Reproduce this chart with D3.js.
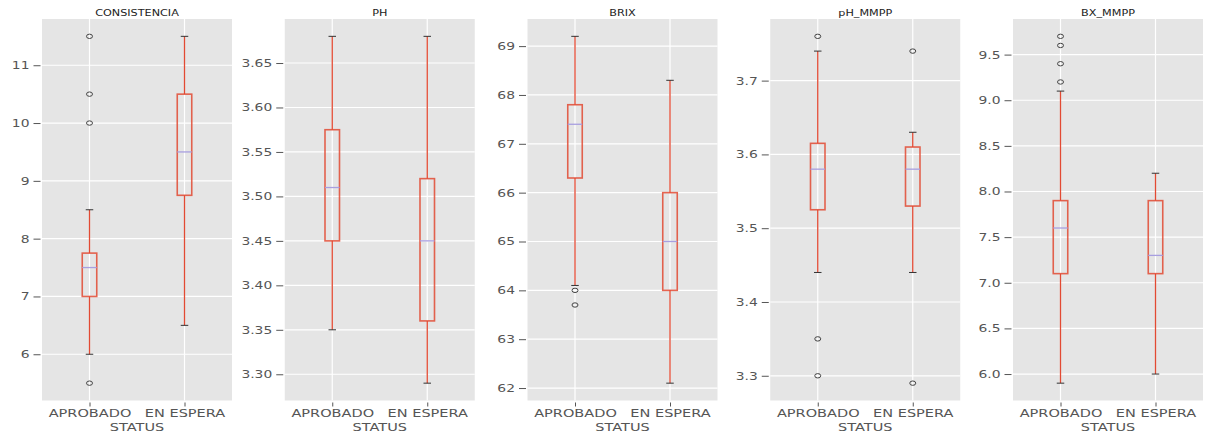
<!DOCTYPE html>
<html>
<head>
<meta charset="utf-8">
<script src="https://cdn.jsdelivr.net/npm/d3@7"></script>
<style>
  html, body { margin: 0; padding: 0; background: #ffffff; }
  svg { display: block; }
  text { font-family: "DejaVu Sans", sans-serif; }
</style>
</head>
<body>
<svg id="chart" width="1206" height="437"></svg>
<script>
// Box-plot summaries per variable, grouped by STATUS
const categories = ["APROBADO", "EN ESPERA"];
const panelTitles = ["CONSISTENCIA", "PH", "BRIX", "pH_MMPP", "BX_MMPP"];

const whiskerLow  = [[6.0, 6.5],    [3.35, 3.29],  [64.1, 62.1], [3.44, 3.44],   [5.9, 6.0]];
const quartile1   = [[7.0, 8.75],   [3.45, 3.36],  [66.3, 64.0], [3.525, 3.53],  [7.1, 7.1]];
const medians     = [[7.5, 9.5],    [3.51, 3.45],  [67.4, 65.0], [3.58, 3.58],   [7.6, 7.3]];
const quartile3   = [[7.75, 10.5],  [3.575, 3.52], [67.8, 66.0], [3.615, 3.61],  [7.9, 7.9]];
const whiskerHigh = [[8.5, 11.5],   [3.68, 3.68],  [69.2, 68.3], [3.74, 3.63],   [9.1, 8.2]];

const outliers = [
  [[11.5, 10.5, 10.0, 5.5], []],
  [[], []],
  [[64.0, 63.7], []],
  [[3.76, 3.35, 3.30], [3.74, 3.29]],
  [[9.7, 9.6, 9.4, 9.2], []]
];

const yTicks = [
  [6, 7, 8, 9, 10, 11],
  [3.30, 3.35, 3.40, 3.45, 3.50, 3.55, 3.60, 3.65],
  [62, 63, 64, 65, 66, 67, 68, 69],
  [3.3, 3.4, 3.5, 3.6, 3.7],
  [6.0, 6.5, 7.0, 7.5, 8.0, 8.5, 9.0, 9.5]
];
const yTickFormats = ["d", ".2f", "d", ".1f", ".1f"];
const xAxisLabel = "STATUS";

// Layout
const svg = d3.select("#chart");
const plotTop = 19, plotBottom = 400.5;
const firstLeft = 42, panelStep = 242.75, plotWidth = 190;
const boxWidth = 14.5, capWidth = 7.5;

const colors = {
  bg: "#E5E5E5", grid: "#FFFFFF", box: "#E24A33", median: "#A89FE0",
  cap: "#333333", flier: "#444444", tick: "#555555", title: "#222222"
};

// horizontal stretch applied to the text glyphs
const stretchX = 1.32;

panelTitles.forEach((title, p) => {
  const left = firstLeft + p * panelStep;
  const g = svg.append("g");

  const allVals = [].concat(whiskerLow[p], whiskerHigh[p], outliers[p][0], outliers[p][1]);
  const [mn, mx] = d3.extent(allVals);
  const pad = (mx - mn) * 0.05;

  const y = d3.scaleLinear().domain([mn - pad, mx + pad]).range([plotBottom, plotTop]);
  const x = d3.scalePoint().domain(categories).range([left, left + plotWidth]).padding(0.5);

  // background
  g.append("rect")
    .attr("x", left).attr("y", plotTop)
    .attr("width", plotWidth).attr("height", plotBottom - plotTop)
    .attr("fill", colors.bg);

  // grid lines
  g.selectAll(".hgrid").data(yTicks[p]).join("line")
    .attr("x1", left).attr("x2", left + plotWidth)
    .attr("y1", d => y(d)).attr("y2", d => y(d))
    .attr("stroke", colors.grid).attr("stroke-width", 1.2);
  g.selectAll(".vgrid").data(categories).join("line")
    .attr("x1", d => x(d)).attr("x2", d => x(d))
    .attr("y1", plotTop).attr("y2", plotBottom)
    .attr("stroke", colors.grid).attr("stroke-width", 1.2);

  // y axis
  const fmt = d3.format(yTickFormats[p]);
  const yAxis = g.append("g")
    .attr("transform", `translate(${left - 1.5},0)`)
    .call(d3.axisLeft(y).tickValues(yTicks[p]).tickFormat(fmt).tickSize(7).tickPadding(4));
  yAxis.select(".domain").remove();
  yAxis.selectAll(".tick line").attr("stroke", colors.tick).attr("stroke-width", 1);
  yAxis.selectAll(".tick text")
    .attr("fill", colors.tick).attr("font-size", 10.5)
    .attr("x", null).attr("dy", null)
    .attr("dominant-baseline", "central")
    .attr("transform", `translate(-11,0) scale(${stretchX},1)`);

  // x axis
  const xAxis = g.append("g")
    .attr("transform", `translate(0,${plotBottom + 2})`)
    .call(d3.axisBottom(x).tickSize(4).tickPadding(3));
  xAxis.select(".domain").remove();
  xAxis.selectAll(".tick line").attr("stroke", colors.tick).attr("stroke-width", 1);
  xAxis.selectAll(".tick text")
    .attr("fill", colors.tick).attr("font-size", 11)
    .attr("y", null).attr("dy", null)
    .attr("dominant-baseline", "central")
    .attr("transform", `translate(0,11) scale(${stretchX},1)`);

  // x axis label
  g.append("text")
    .attr("transform", `translate(${left + plotWidth / 2},${plotBottom + 26.5}) scale(${stretchX},1)`)
    .attr("text-anchor", "middle").attr("dominant-baseline", "central")
    .attr("font-size", 11).attr("fill", colors.tick)
    .text(xAxisLabel);

  // title
  g.append("text")
    .attr("transform", `translate(${left + plotWidth / 2},${plotTop - 6}) scale(${stretchX},1)`)
    .attr("text-anchor", "middle").attr("dominant-baseline", "central")
    .attr("font-size", 8.5).attr("fill", colors.title)
    .text(title);

  // boxes
  categories.forEach((c, i) => {
    const cx = x(c);
    const bg = g.append("g");
    // whiskers
    bg.append("line")
      .attr("x1", cx).attr("x2", cx)
      .attr("y1", y(whiskerHigh[p][i])).attr("y2", y(quartile3[p][i]))
      .attr("stroke", colors.box).attr("stroke-width", 1.3);
    bg.append("line")
      .attr("x1", cx).attr("x2", cx)
      .attr("y1", y(quartile1[p][i])).attr("y2", y(whiskerLow[p][i]))
      .attr("stroke", colors.box).attr("stroke-width", 1.3);
    // caps
    [whiskerHigh[p][i], whiskerLow[p][i]].forEach(v => {
      bg.append("line")
        .attr("x1", cx - capWidth / 2).attr("x2", cx + capWidth / 2)
        .attr("y1", y(v)).attr("y2", y(v))
        .attr("stroke", colors.cap).attr("stroke-width", 1);
    });
    // box
    bg.append("rect")
      .attr("x", cx - boxWidth / 2).attr("y", y(quartile3[p][i]))
      .attr("width", boxWidth).attr("height", y(quartile1[p][i]) - y(quartile3[p][i]))
      .attr("fill", "none").attr("stroke", colors.box).attr("stroke-width", 1.6)
      .attr("stroke-opacity", 0.85);
    // median
    bg.append("line")
      .attr("x1", cx - boxWidth / 2).attr("x2", cx + boxWidth / 2)
      .attr("y1", y(medians[p][i])).attr("y2", y(medians[p][i]))
      .attr("stroke", colors.median).attr("stroke-width", 1.3);
    // outliers
    bg.selectAll(".flier").data(outliers[p][i]).join("ellipse")
      .attr("cx", cx).attr("cy", d => y(d))
      .attr("rx", 3).attr("ry", 2.2)
      .attr("fill", "none").attr("stroke", colors.flier).attr("stroke-width", 1);
  });
});
</script>
</body>
</html>
